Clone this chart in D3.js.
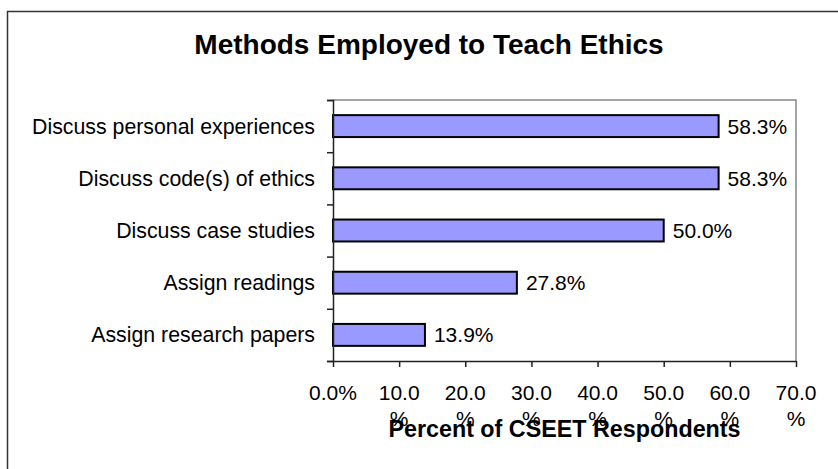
<!DOCTYPE html>
<html>
<head>
<meta charset="utf-8">
<script src="https://cdn.jsdelivr.net/npm/d3@7"></script>
<style>
body{margin:0;background:#fff;}
svg text{font-family:"Liberation Sans",Arial,sans-serif;fill:#000;}
</style>
</head>
<body>
<svg width="838" height="469"></svg>
<script>
// chart data
var categories=['Discuss personal experiences','Discuss code(s) of ethics','Discuss case studies','Assign readings','Assign research papers'];
var values=[58.3,58.3,50.0,27.8,13.9];
var xTicks=[0,10,20,30,40,50,60,70];
var xTickLabels=[['0.0%'],['10.0','%'],['20.0','%'],['30.0','%'],['40.0','%'],['50.0','%'],['60.0','%'],['70.0','%']];
var title='Methods Employed to Teach Ethics', xTitle='Percent of CSEET Respondents';

var svg=d3.select('svg');
var L=333, R=796, T=100, B=361;

// outer frame (runs off the right and bottom edges)
svg.append('rect').attr('x',7.5).attr('y',11.5).attr('width',900).attr('height',500)
	.attr('fill','none').attr('stroke','#333').attr('stroke-width',1.5);

svg.append('text').attr('x',429).attr('y',54).attr('text-anchor','middle')
	.attr('font-size',28).attr('font-weight','bold').text(title);

var x=d3.scaleLinear().domain([0,70]).range([L,R]);
var y=d3.scaleBand().domain(categories).range([T,B]).paddingInner(.58).paddingOuter(.29);
var yTick=d3.scaleLinear().domain([0,categories.length]).range([T,B]);

// plot area border (top/right grey)
svg.append('path').attr('d','M'+L+','+T+'H'+R+'V'+B).attr('fill','none')
	.attr('stroke','#888').attr('stroke-width',1.5);

// bars
svg.selectAll('rect.bar').data(values).enter().append('rect').attr('class','bar')
	.attr('x',x(0)).attr('y',function(d,i){return y(categories[i]);})
	.attr('width',function(d){return x(d)-x(0);}).attr('height',y.bandwidth())
	.attr('fill','#9999ff').attr('stroke','#000').attr('stroke-width',2);

// value labels
svg.selectAll('text.val').data(values).enter().append('text').attr('class','val')
	.attr('x',function(d){return x(d)+9;})
	.attr('y',function(d,i){return y(categories[i])+y.bandwidth()/2+7.5;})
	.attr('font-size',21).text(function(d){return d.toFixed(1)+'%';});

// category labels
svg.selectAll('text.cat').data(categories).enter().append('text').attr('class','cat')
	.attr('x',L-18).attr('y',function(d){return y(d)+y.bandwidth()/2+7.5;})
	.attr('text-anchor','end').attr('font-size',21.3).text(function(d){return d;});

// y axis
var ya=svg.append('g').attr('transform','translate('+L+',0)')
	.call(d3.axisLeft(yTick).ticks(categories.length).tickSize(6).tickFormat(''));
ya.select('.domain').attr('stroke','#222').attr('stroke-width',1.5);
ya.selectAll('.tick line').attr('stroke','#222').attr('stroke-width',1.5);

// x axis
var xa=svg.append('g').attr('transform','translate(0,'+B+')')
	.call(d3.axisBottom(x).tickValues(xTicks).tickSize(6).tickSizeOuter(0).tickFormat(''));
xa.select('.domain').attr('stroke','#222').attr('stroke-width',1.5);
xa.selectAll('.tick line').attr('stroke','#222').attr('stroke-width',1.5);

var lbl=svg.selectAll('text.xt').data(xTicks).enter().append('text').attr('class','xt')
	.attr('text-anchor','middle').attr('font-size',21)
	.attr('transform',function(d){return 'translate('+x(d)+','+(B+38.5)+')';});
lbl.selectAll('tspan').data(function(d,i){return xTickLabels[i];}).enter().append('tspan')
	.attr('x',0).attr('y',function(d,j){return j*26;}).text(function(d){return d;});

svg.append('text').attr('x',(L+R)/2).attr('y',437).attr('text-anchor','middle')
	.attr('font-size',23.3).attr('font-weight','bold').text(xTitle);
</script>
</body>
</html>
